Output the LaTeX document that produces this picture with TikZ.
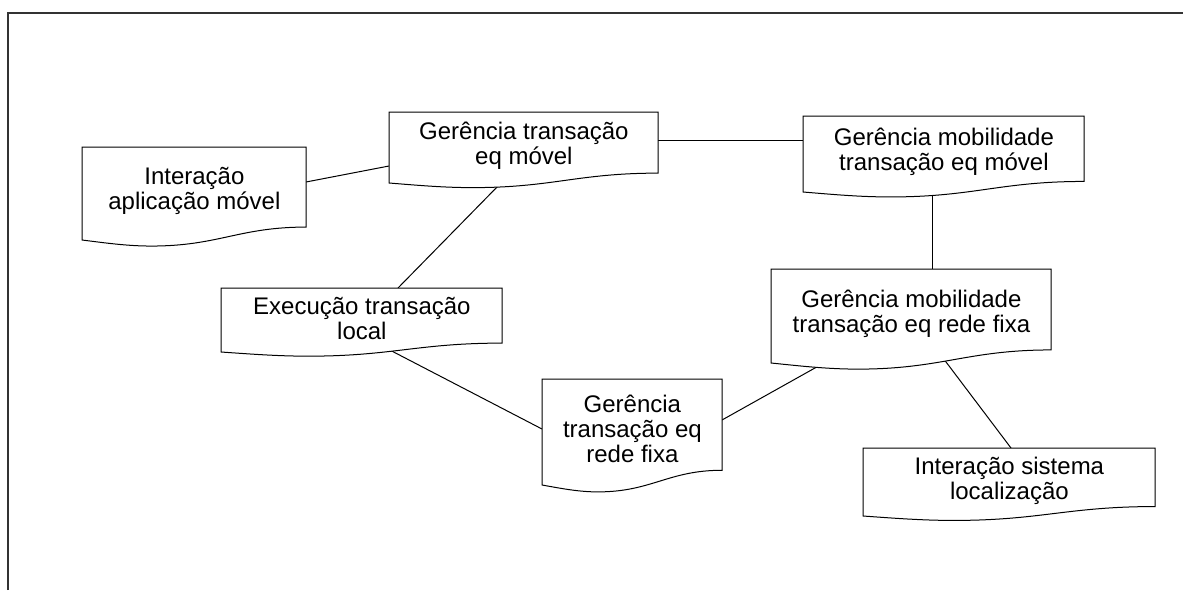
\documentclass[tikz,border=0pt]{standalone}
\usepackage{fontspec}
\setmainfont{Liberation Sans}
\usetikzlibrary{calc,backgrounds}

% Flowchart "document" box: top edge, straight sides, wavy bottom.
% #1 name, #2 left x, #3 top y, #4 width, #5 height of left side, #6 text
\newcommand\docbox[6]{%
  \path[docshape] (#2,#3) -- ({#2+#4},#3) -- ({#2+#4},{#3+0.861*#5})
    .. controls ({#2+0.70*#4},{#3+0.861*#5}) and ({#2+0.61*#4},{#3+1.065*#5})
    .. ({#2+0.31*#4},{#3+1.065*#5})
    .. controls ({#2+0.20*#4},{#3+1.065*#5}) and ({#2+0.10*#4},{#3+1.03*#5})
    .. (#2,{#3+#5}) -- cycle;
  \node[doctext, minimum width={#4*0.5pt}, minimum height={0.94*#5*0.5pt},
        anchor=north west] (#1) at (#2,#3) {#6};%
}

\begin{document}
\begin{tikzpicture}[x=0.5pt,y=-0.5pt,
  docshape/.style={draw=black, fill=white, line width=0.5pt},
  doctext/.style={inner sep=0pt, align=center, text=black,
                  font=\fontsize{12}{12.5}\selectfont},
  link/.style={draw=black, line width=0.5pt},
  frameline/.style={draw=black!80, line width=1pt}]
\useasboundingbox (0,0) rectangle (1183,590);

\docbox{iam}{82}{147}{224}{93}{Interação\\aplicação móvel}
\docbox{gtm}{389}{112}{269}{71}{Gerência transação\\eq móvel}
\docbox{gmm}{803}{116}{281}{76}{Gerência mobilidade\\transação eq móvel}
\docbox{etl}{221}{288}{281}{64}{Execução transação\\local}
\docbox{gmf}{771}{269}{280}{94}{Gerência mobilidade\\transação eq rede fixa}
\docbox{gtf}{542}{379}{180}{106}{Gerência\\transação eq\\rede fixa}
\docbox{isl}{863}{448}{292}{68}{Interação sistema\\localização}

\begin{pgfonlayer}{background}
  % outer frame
  \draw[frameline] (8,590) -- (8,13) -- (1183,13);
  % connectors
  \draw[link] ([shift={(224,35)}]iam.north west) -- ([shift={(0,54)}]gtm.north west);
  \draw[link] ([shift={(269,28)}]gtm.north west) coordinate (g1) -- (g1 -| gmm.west);
  \draw[link] ([shift={(109.8,73.2)}]gtm.north west) -- ([shift={(177,0)}]etl.north west);
  \coordinate (g3) at ([shift={(0,77)}]gmm.north west);
  \draw[link] ([shift={(161,0)}]gmf.north west) coordinate (g2) -- (g2 |- g3);
  \draw[link] ([shift={(163.4,59.2)}]etl.north west) -- ([shift={(0,50)}]gtf.north west);
  \draw[link] ([shift={(180,41)}]gtf.north west) -- ([shift={(47.5,97)}]gmf.north west);
  \draw[link] ([shift={(169.6,85.8)}]gmf.north west) -- ([shift={(148,0)}]isl.north west);
\end{pgfonlayer}
\end{tikzpicture}
\end{document}
